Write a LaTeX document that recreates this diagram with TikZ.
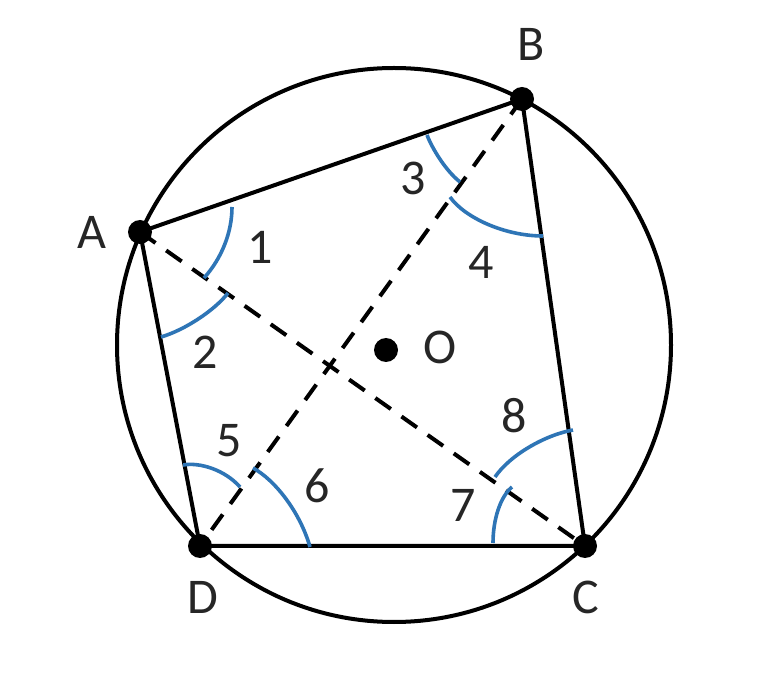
\documentclass[tikz,border=0pt]{standalone}
\usepackage{fontspec}
\setmainfont{Carlito}
\definecolor{arcblue}{RGB}{46,117,182}
\tikzset{
  edge/.style={line width=4pt, black},
  diag/.style={line width=4pt, black, dash pattern=on 19pt off 13pt},
  anglearc/.style={line width=3.6pt, arcblue},
  vdot/.style={circle, fill=black, inner sep=0pt, minimum size=24pt},
  lbl/.style={inner sep=0pt, font=\fontsize{50}{60}\selectfont, text=black!85}
}
\begin{document}
\begin{tikzpicture}[x=1pt, y=-1pt]
\useasboundingbox (0,0) rectangle (764,676);
\fill[white] (0,0) rectangle (764,676);
% circle
\coordinate (Oc) at (394,345);
\draw[edge] (Oc) circle[radius=277];
% vertices
\coordinate (A) at (140,232);
\coordinate (B) at (522,99);
\coordinate (C) at (585,546);
\coordinate (D) at (200,546);
% sides
\draw[edge] (A) -- (B) -- (C) -- (D) -- cycle;
% diagonals
\draw[diag] (A) -- (C);
\draw[diag] (B) -- (D);
% angle marks
\draw[anglearc] (232,207) .. controls (232,232) and (222,258) .. (204,278);
\draw[anglearc] (228,293) .. controls (215,310) and (185,330) .. (161,337);
\draw[anglearc] (427,135) .. controls (432,148) and (445,170) .. (460,182);
\draw[anglearc] (450,197) .. controls (465,218) and (505,236) .. (543,236);
\draw[anglearc] (183,465) .. controls (200,462) and (225,470) .. (240,487);
\draw[anglearc] (253,468) .. controls (275,480) and (300,512) .. (310,547);
\draw[anglearc] (512,487) .. controls (500,497) and (493,520) .. (493,543);
\draw[anglearc] (495,477) .. controls (510,455) and (545,435) .. (573,430);
% dots
\node[vdot] (dA) at (A) {};
\node[vdot] (dB) at (B) {};
\node[vdot] (dC) at (C) {};
\node[vdot] (dD) at (D) {};
\node[vdot] (dO) at (386,350) {};
% labels
\node[lbl] (lA) at (92,232) {A};
\node[lbl] (lB) at (531,44) {B};
\node[lbl] (lC) at (586,597) {C};
\node[lbl] (lD) at (203,597) {D};
\node[lbl] (lO) at (440,347) {O};
\node[lbl] (n1) at (260,247) {1};
\node[lbl] (n2) at (205,352) {2};
\node[lbl] (n3) at (413,178) {3};
\node[lbl] (n4) at (481,262) {4};
\node[lbl] (n5) at (229,441) {5};
\node[lbl] (n6) at (317,486) {6};
\node[lbl] (n7) at (463,505) {7};
\node[lbl] (n8) at (514,416) {8};
\end{tikzpicture}
\end{document}
